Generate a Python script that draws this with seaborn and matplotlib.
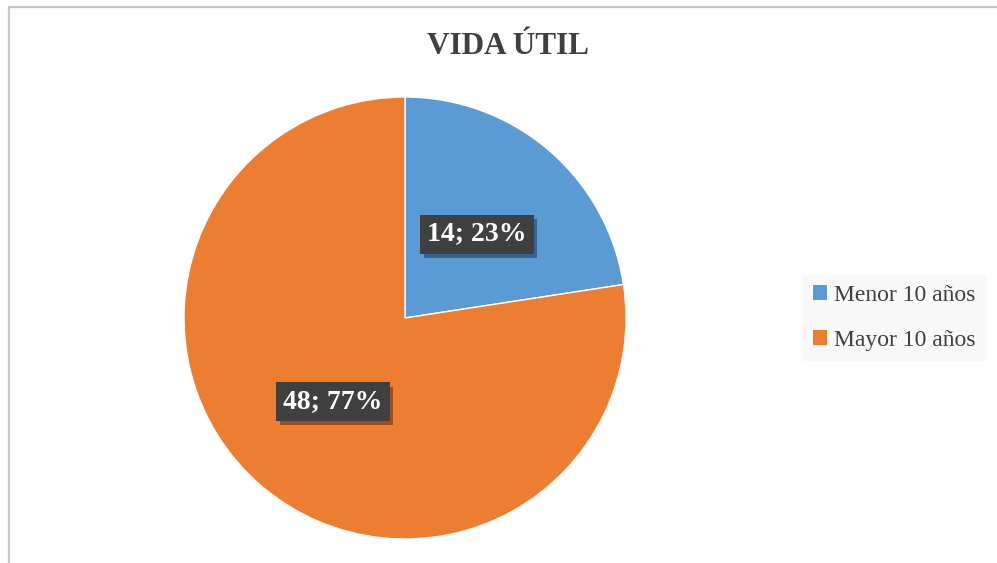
import numpy as np
import seaborn as sns
import pandas as pd
import matplotlib.pyplot as plt
from matplotlib.patches import Patch
import matplotlib.patheffects as pe

categories = ["Menor 10 años", "Mayor 10 años"]
counts = [14, 48]
colors = ["#5B9BD5", "#ED7D31"]
title = "VIDA ÚTIL"

sns.set_theme(style="white")
plt.rcParams['font.family'] = ['Liberation Serif', 'DejaVu Serif']

df = pd.DataFrame({"cat": categories, "n": counts})
df["pct"] = df["n"] / df["n"].sum() * 100

fig = plt.figure(figsize=(9.97, 5.63), dpi=100)
W, H = 997, 563

# chart border (only top and left visible)
fig.add_artist(plt.Line2D([8.5 / W, 8.5 / W], [0, 1 - 6.5 / H], color="#C8C8C8", lw=1.6,
                          transform=fig.transFigure))
fig.add_artist(plt.Line2D([8.5 / W, 1], [1 - 6.5 / H, 1 - 6.5 / H], color="#C8C8C8", lw=1.6,
                          transform=fig.transFigure))

cx, cy, r = 405, 318, 221
ax = fig.add_axes([(cx - r) / W, (H - cy - r) / H, 2 * r / W, 2 * r / H])
wedges, _ = ax.pie(df["n"], colors=colors, startangle=90, counterclock=False,
                   wedgeprops=dict(edgecolor="white", linewidth=1))
ax.set_xlim(-1, 1)
ax.set_ylim(-1, 1)
ax.set_aspect("equal")
ax.axis("off")

for w, (_, row) in zip(wedges, df.iterrows()):
    ang = np.deg2rad((w.theta1 + w.theta2) / 2)
    x, y = 0.5 * np.cos(ang), 0.5 * np.sin(ang)
    label = f"{row['n']}; {row['pct']:.0f}%"
    t = ax.text(x, y, label, ha="center", va="center", fontsize=20, fontweight="bold",
                color="white", bbox=dict(boxstyle="square,pad=0.25", fc="#404040", ec="none"))
    t.get_bbox_patch().set_path_effects(
        [pe.SimplePatchShadow(offset=(2.5, -3), shadow_rgbFace="black", alpha=0.35), pe.Normal()])

fig.text(508 / W, 1 - 46 / H, title, ha="center", va="center", fontsize=22.5,
         fontweight="bold", color="#404040")

handles = [Patch(facecolor=c, edgecolor="none") for c in colors]
leg = fig.legend(handles, categories, loc="center left", bbox_to_anchor=(802 / W, 1 - 318 / H),
                 frameon=True, fontsize=17, handlelength=0.6, handleheight=0.6,
                 handletextpad=0.3, labelspacing=1.0, borderpad=0.45, borderaxespad=0,
                 fancybox=False)
leg.get_frame().set_facecolor("#F8F8F8")
leg.get_frame().set_edgecolor("none")
for t in leg.get_texts():
    t.set_color("#404040")

plt.savefig("out.png", dpi=100)
